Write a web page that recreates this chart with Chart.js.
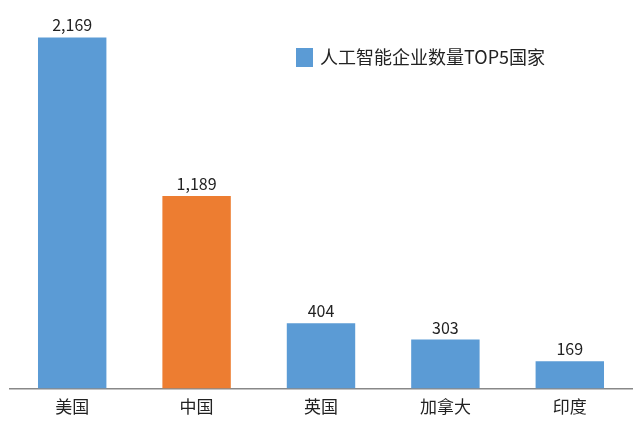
<!DOCTYPE html>
<html><head><meta charset="utf-8">
<script src="https://cdn.jsdelivr.net/npm/chart.js@4"></script>
<style>html,body{margin:0;padding:0;background:#fff}#w{width:640px;height:425px}</style>
</head><body><div id="w"><canvas id="c"></canvas></div>
<script>
const categories = ["美国","中国","英国","加拿大","印度"];
const values = [2169,1189,404,303,169];
const seriesName = "人工智能企业数量TOP5国家";
const colors = ["#5B9BD5","#ED7D31","#5B9BD5","#5B9BD5","#5B9BD5"];
const font = "'Noto Sans CJK SC','Liberation Sans',sans-serif";
const overlay = {
  id:"overlay",
  afterDatasetsDraw(chart){
    const ctx=chart.ctx, meta=chart.getDatasetMeta(0);
    ctx.save();
    ctx.fillStyle="#222"; ctx.font="16px "+font; ctx.textAlign="center"; ctx.textBaseline="bottom";
    meta.data.forEach((b,i)=>ctx.fillText(values[i].toLocaleString("en-US"), b.x, b.y-4));
    ctx.fillStyle="#5B9BD5"; ctx.fillRect(296,48,17,19);
    ctx.fillStyle="#222"; ctx.font="18px "+font; ctx.textAlign="left"; ctx.textBaseline="middle";
    ctx.fillText(seriesName,320,57);
    ctx.restore();
  }
};
new Chart(document.getElementById("c"),{
  type:"bar",
  data:{labels:categories,datasets:[{label:seriesName,data:values,backgroundColor:colors,categoryPercentage:1,barPercentage:0.55}]},
  options:{responsive:true,maintainAspectRatio:false,animation:false,
    layout:{padding:{left:10,right:8,top:0,bottom:0}},
    plugins:{legend:{display:false},tooltip:{enabled:false}},
    scales:{
      x:{grid:{display:false,drawTicks:false},border:{color:"#888",width:1.5},
         ticks:{color:"#222",font:{size:17,family:font},padding:8}},
      y:{display:false,min:0,max:2400}
    }
  },
  plugins:[overlay]
});
</script></body></html>
